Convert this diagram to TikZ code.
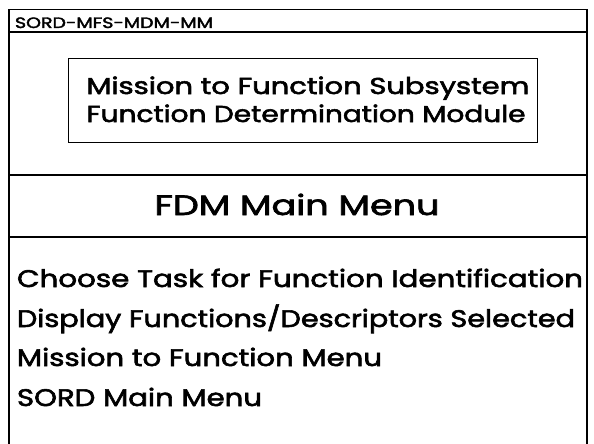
\documentclass[tikz,border=0pt]{standalone}
\usepackage{graphicx}
\usepackage{fontspec}
\setmainfont{Poppins}
\newfontfamily\menufont{Poppins}[FakeBold=2.2]
% set a text at a fixed width, keeping its height
\newcommand{\fitw}[2]{\resizebox{#1}{\height}{#2}}
\tikzset{
  frame/.style={line width=1.4pt, line cap=round},
  label/.style={inner sep=0pt, outer sep=0pt, text=black},
  small/.style={label, font=\menufont\fontsize{15}{15}\selectfont},
  title/.style={label, font=\menufont\fontsize{23}{23}\selectfont},
  big/.style={label, font=\menufont\fontsize{28}{28}\selectfont},
  item/.style={label, font=\menufont\fontsize{24}{24}\selectfont, anchor=base west},
}
\begin{document}
\begin{tikzpicture}[x=1pt, y=-1pt]
  \useasboundingbox (0,0) rectangle (594,444);
  % outer panel, open at the bottom
  \draw[frame] (9,444) -- (9,9.5) -- (587,9.5) -- (587,444);
  \draw[frame] (9,32) -- (587,32);
  \draw[frame] (9,175) -- (587,175);
  \draw[frame] (9,237) -- (587,237);
  % title box
  \node[draw, line width=1.4pt, minimum width=469pt, minimum height=84pt, anchor=north west] (tbox) at (68,58) {};

  \node[small, anchor=base west] (code) at (15,28) {\fitw{198pt}{SORD-MFS-MDM-MM}};
  \node[title, anchor=base] (t1) at (308,94) {\fitw{443pt}{Mission to Function Subsystem}};
  \node[title, anchor=base] (t2) at (306,122) {\fitw{439pt}{Function Determination Module}};
  \node[big, anchor=base] (fdm) at (297,215) {\fitw{285pt}{FDM Main Menu}};
  \node[item] (m1) at (17,287) {\fitw{566pt}{Choose Task for Function Identification}};
  \node[item] (m2) at (17,327) {\fitw{558pt}{Display Functions/Descriptors Selected}};
  \node[item] (m3) at (17,366) {\fitw{365pt}{Mission to Function Menu}};
  \node[item] (m4) at (17,406) {\fitw{245pt}{SORD Main Menu}};
\end{tikzpicture}
\end{document}
